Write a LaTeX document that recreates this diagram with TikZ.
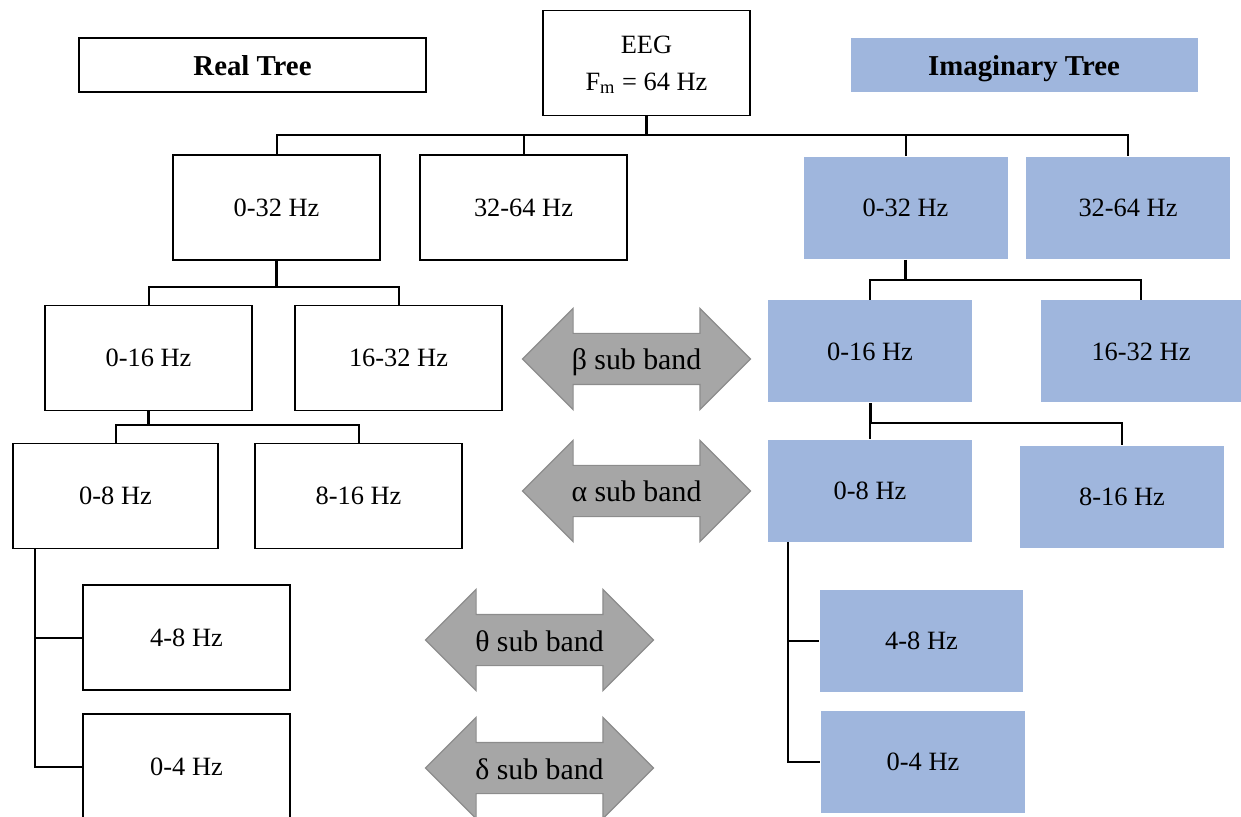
\documentclass[tikz,border=0pt]{standalone}
\usepackage{fontspec}
\setmainfont{Liberation Serif}
\usetikzlibrary{shapes.arrows}
\definecolor{imblue}{RGB}{159,182,221}
\definecolor{subgray}{RGB}{166,166,166}
\definecolor{subedge}{RGB}{140,140,140}

\begin{document}
\begin{tikzpicture}[x=0.5pt,y=-0.5pt,
  band/.style={draw, line width=0.8pt, inner sep=0pt, minimum width=103.5pt, minimum height=52.5pt, font=\fontsize{13.2}{16}\selectfont},
  iband/.style={band, draw=none, fill=imblue, minimum width=102pt, minimum height=51pt},
  treetitle/.style={inner sep=0pt, minimum width=173.5pt, minimum height=27pt, text height=12pt, text depth=1pt, font=\fontsize{14.4}{17}\selectfont\bfseries},
  subarrow/.style={double arrow, double arrow head extend=12.5pt, double arrow tip angle=90, minimum height=114pt, minimum width=50pt, inner xsep=0pt, inner ysep=0pt, text height=18pt, text depth=7pt, fill=subgray, draw=subedge, line width=0.6pt, font=\fontsize{14.9}{17}\selectfont},
  link/.style={line width=1pt},
  stem/.style={line width=1.5pt}]
  \useasboundingbox (0,0) rectangle (1241,817);

  \node[treetitle, draw, line width=0.8pt] (realtree) at (252.5,65) {Real Tree};
  \node[treetitle, fill=imblue] (imagtree) at (1024,65) {Imaginary Tree};
  \node[band, align=center, font=\fontsize{13.2}{18.5}\selectfont, text depth=0pt] (eeg) at (646.5,63) {EEG\\F\textsubscript{m} = 64 Hz};

  \node[band] (l032) at (276.5,207.5) {0-32 Hz};
  \node[band] (l3264) at (523.5,207.5) {32-64 Hz};
  \node[band] (l016) at (148.5,358) {0-16 Hz};
  \node[band] (l1632) at (398.5,358) {16-32 Hz};
  \node[band, minimum width=102.5pt] (l08) at (115.5,496) {0-8 Hz};
  \node[band] (l816) at (358.5,496) {8-16 Hz};
  \node[band] (l48) at (186.5,637.5) {4-8 Hz};
  \node[band] (l04) at (186.5,766.5) {0-4 Hz};

  \node[iband] (r032) at (905.5,208) {0-32 Hz};
  \node[iband] (r3264) at (1128,208) {32-64 Hz};
  \node[iband] (r016) at (870,351.5) {0-16 Hz};
  \node[iband, minimum width=100pt] (r1632) at (1141,351.5) {16-32 Hz};
  \node[iband] (r08) at (870,491) {0-8 Hz};
  \node[iband] (r816) at (1122,497) {8-16 Hz};
  \node[iband, minimum width=101.5pt] (r48) at (921.5,640.5) {4-8 Hz};
  \node[iband] (r04) at (923,761.5) {0-4 Hz};

  \node[subarrow] (beta) at (636.5,359) {β sub band};
  \node[subarrow] (alpha) at (636.5,491) {α sub band};
  \node[subarrow] (theta) at (539.5,640) {θ sub band};
  \node[subarrow] (delta) at (539.5,768) {δ sub band};

  \coordinate (b0) at (646.5,135);
  \coordinate (b1) at (276.5,287);
  \coordinate (b2) at (148.5,425);
  \coordinate (b3) at (905.5,280);
  \coordinate (b4) at (870,423);
  \coordinate (s1) at (35,548);
  \coordinate (s2) at (788,542);

  \draw[stem] (eeg.south) -- (b0);
  \draw[link] (l032.north) |- (b0) -| (r3264.north);
  \draw[link] (l3264.north) -- (l3264.north |- b0);
  \draw[link] (r032.north) -- (r032.north |- b0);

  \draw[stem] (l032.south) -- (b1);
  \draw[link] (l016.north) |- (b1) -| (l1632.north);
  \draw[stem] (l016.south) -- (b2);
  \draw[link] (l08.north) |- (b2) -| (l816.north);
  \draw[link] (s1) |- (l04.west);
  \draw[link] (s1 |- l48.west) -- (l48.west);

  \draw[stem] (r032.south) -- (b3);
  \draw[link] (r016.north) |- (b3) -| (r1632.north);
  \draw[stem] (r016.south) -- (b4);
  \draw[link] (r08.north) |- (b4) -| (r816.north);
  \draw[link] (s2) |- (r04.west);
  \draw[link] (s2 |- r48.west) -- (r48.west);
\end{tikzpicture}
\end{document}
